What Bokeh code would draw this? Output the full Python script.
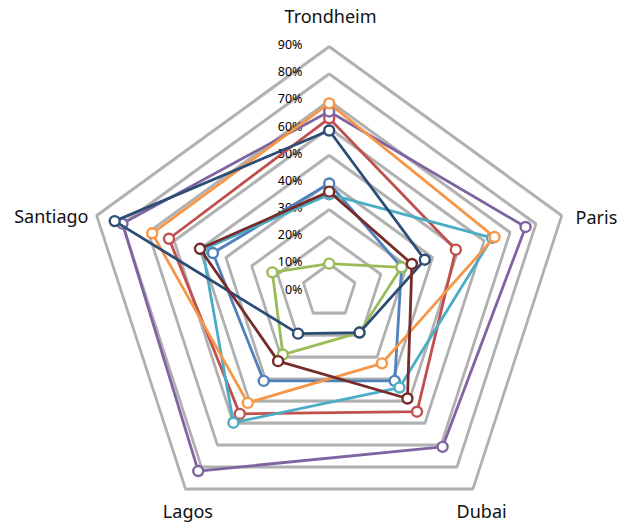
import math
from bokeh.plotting import figure
from bokeh.models import ColumnDataSource
from bokeh.core.properties import value
from bokeh.embed import file_html
from bokeh.resources import INLINE

categories = ["Trondheim", "Paris", "Dubai", "Lagos", "Santiago"]
tick_labels = ["0%", "10%", "20%", "30%", "40%", "50%", "60%", "70%", "80%", "90%"]
ring_values = [10, 20, 30, 40, 50, 60, 70, 80, 90]

s_blue = [39.5, 28, 41, 41, 45]
s_red = [63.5, 49, 55, 56, 62]
s_green = [10, 28, 19, 29, 22]
s_purple = [66, 76, 71, 82, 80]
s_cyan = [35.5, 63, 44, 60, 49]
s_orange = [69, 64, 33, 51, 68.5]
s_darkblue = [59, 37, 19, 19.5, 83]
s_darkred = [36.5, 32, 49, 32, 50]

series = [s_blue, s_red, s_green, s_purple, s_cyan, s_orange, s_darkblue, s_darkred]
colors = ["#4F81BD", "#C0504D", "#9BBB59", "#8064A2", "#4BACC6", "#F79646", "#2C4D75", "#772C2A"]

W, H = 619, 525
unit = 2.717           # px per percent
cx_px, cy_px = 328.7, 290.3
x0 = -cx_px / unit
x1 = (W - cx_px) / unit
y1 = cy_px / unit
y0 = -(H - cy_px) / unit

p = figure(width=W, height=H, x_range=(x0, x1), y_range=(y0, y1),
           output_backend="svg", toolbar_location=None, min_border=0)
p.axis.visible = False
p.grid.visible = False
p.outline_line_color = None
p.background_fill_color = None
p.border_fill_color = "white"

angles = [math.radians(90 - 72 * i) for i in range(len(categories))]

def polar(vals):
    xs = [v * math.cos(a) for v, a in zip(vals, angles)]
    ys = [v * math.sin(a) for v, a in zip(vals, angles)]
    return xs, ys

# grid rings
for rv in ring_values:
    xs, ys = polar([rv] * 5)
    p.line(xs + [xs[0]], [y - 0.35 for y in ys] + [ys[0] - 0.35], line_color="#c8c8c8", line_width=2.5)
    p.line(xs + [xs[0]], ys + [ys[0]], line_color="#b0b0b0", line_width=2.5)

# tick labels
tick_x = (302 - 328.7) / unit
p.text(x=[tick_x] * len(tick_labels), y=[10 * i + 0.6 for i in range(len(tick_labels))],
       text=tick_labels, text_align="right", text_baseline="middle",
       text_font=value("Noto Sans"), text_font_size="12.5px", text_color="#000000")

# series
for vals, col in zip(series, colors):
    xs, ys = polar(vals)
    p.line(xs + [xs[0]], ys + [ys[0]], line_color=col, line_width=2.8)
    p.scatter(xs, ys, size=10, marker="circle", fill_color="white", line_color=col, line_width=2.4)

# category labels
lab_off = [(0.5, 11.3, "center"), (5.1, -0.8, "left"), (3.2, -8.4, "center"), (0.9, -8.4, "center"), (-3.0, -0.1, "right")]
lx, ly, la = [], [], []
for a, (dx, dy, al) in zip(angles, lab_off):
    lx.append(90 * math.cos(a) + dx)
    ly.append(90 * math.sin(a) + dy)
    la.append(al)
src = ColumnDataSource(dict(x=lx, y=ly, t=categories, a=la))
p.text(x="x", y="y", text="t", text_align="a", text_baseline="middle", source=src,
       text_font=value("Noto Sans"), text_font_size="18px", text_color="#111111")

open("out.html", "w").write(file_html(p, INLINE))
